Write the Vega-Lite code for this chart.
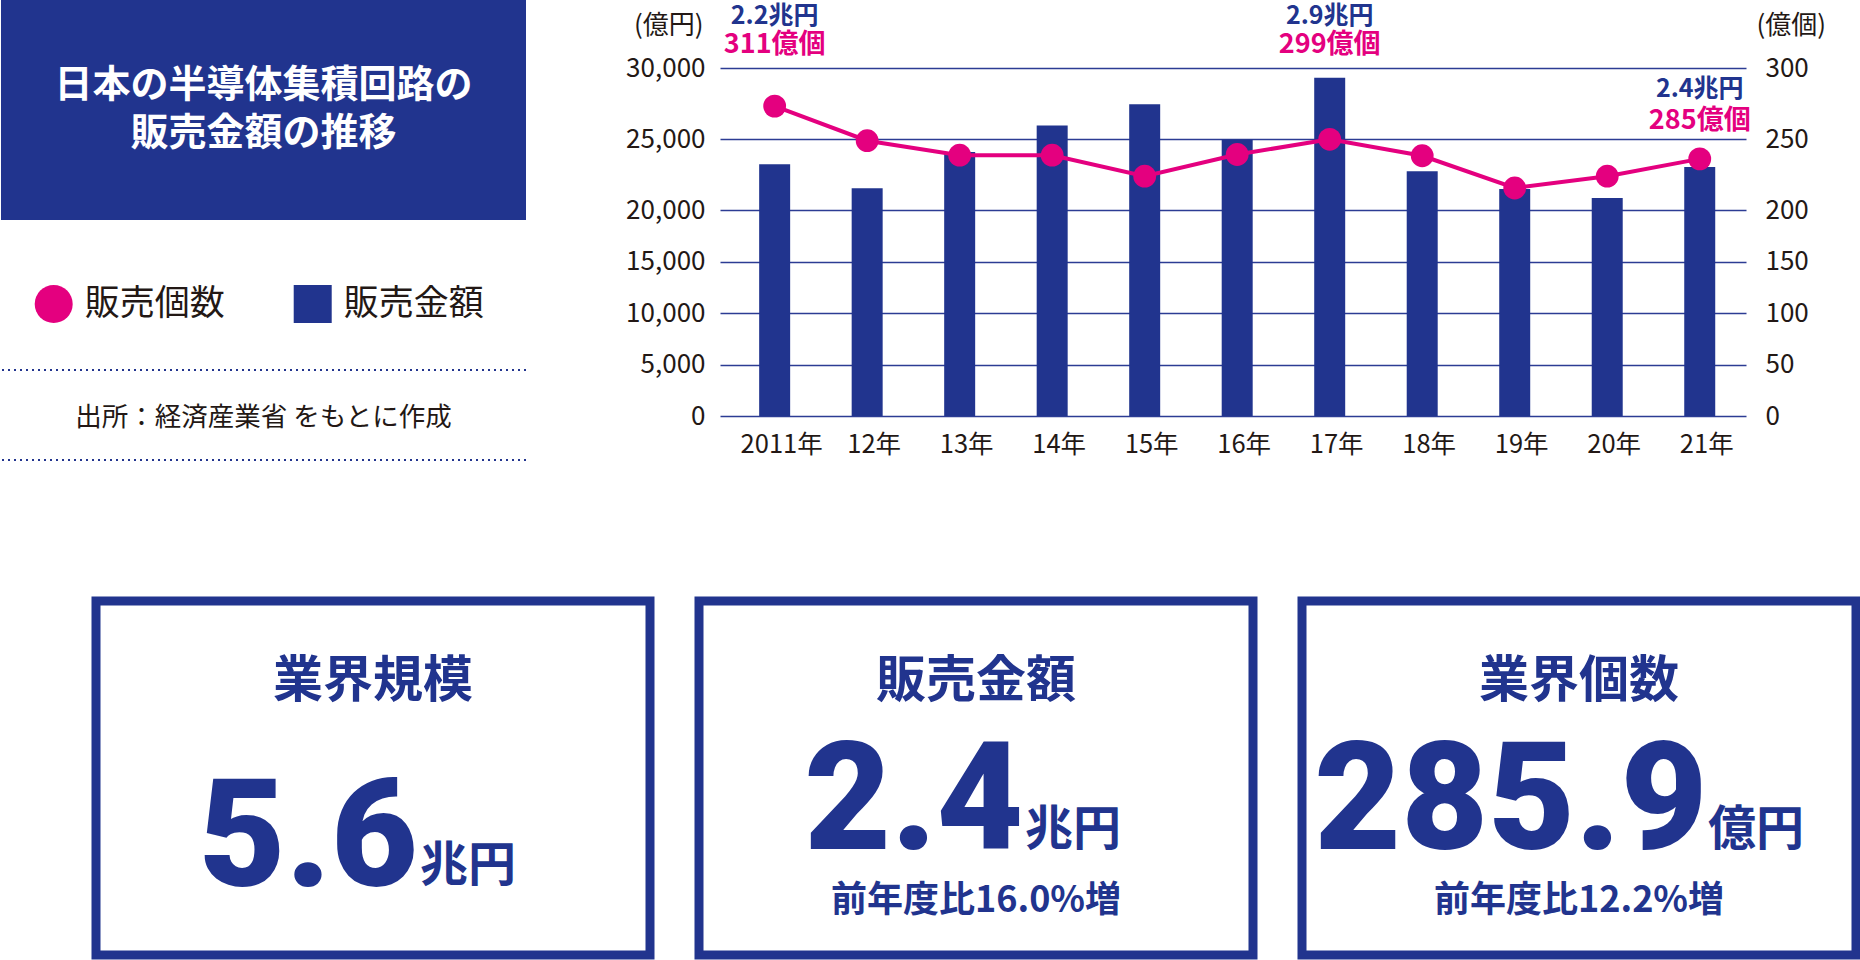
{
  "$schema": "https://vega.github.io/schema/vega-lite/v6.json",
  "padding": 0,
  "background": "white",
  "config": {
    "view": {"stroke": null},
    "font": "Noto Sans CJK JP",
    "text": {"font": "Noto Sans CJK JP"},
    "axis": {"labelFont": "Noto Sans CJK JP", "titleFont": "Noto Sans CJK JP"}
  },
  "datasets": {
    "年次": [
      {"年": "2011年", "金額": 23240, "個数": 273.4, "金額注記": "2.2兆円", "個数注記": "311億個"},
      {"年": "12年", "金額": 21550, "個数": 249.0},
      {"年": "13年", "金額": 24100, "個数": 238.8},
      {"年": "14年", "金額": 25980, "個数": 238.8},
      {"年": "15年", "金額": 27470, "個数": 224.0},
      {"年": "16年", "金額": 24990, "個数": 239.3},
      {"年": "17年", "金額": 29330, "個数": 250.0, "金額注記": "2.9兆円", "個数注記": "299億個"},
      {"年": "18年", "金額": 22750, "個数": 238.4},
      {"年": "19年", "金額": 21500, "個数": 215.7},
      {"年": "20年", "金額": 20870, "個数": 224.0},
      {"年": "21年", "金額": 23050, "個数": 236.2, "金額注記": "2.4兆円", "個数注記": "285億個"}
    ]
  },
  "spacing": 135,
  "align": "none",
  "bounds": "full",
  "vconcat": [
    {
      "spacing": 98,
      "align": "none",
      "bounds": "full",
      "hconcat": [
        {
          "spacing": 0,
          "align": "none",
          "bounds": "flush",
          "vconcat": [
            {
              "width": 525,
              "height": 220,
              "view": {"fill": "#21348E", "stroke": null},
              "data": {"values": [{"1行目": "日本の半導体集積回路の", "2行目": "販売金額の推移"}]},
              "layer": [
                {"mark": {"type": "text", "color": "white", "fontSize": 38, "fontWeight": "bold", "align": "center", "baseline": "middle", "dy": -24},
                 "encoding": {"text": {"field": "1行目"}}},
                {"mark": {"type": "text", "color": "white", "fontSize": 38, "fontWeight": "bold", "align": "center", "baseline": "middle", "dy": 24},
                 "encoding": {"text": {"field": "2行目"}}}
              ]
            },
            {
              "width": 525,
              "height": 150,
              "data": {"values": [{"凡例": "販売個数"}, {"凡例": "販売金額"}]},
              "encoding": {
                "x": {"field": "凡例", "type": "nominal", "sort": null, "axis": null, "bandPosition": 0.19,
                      "scale": {"type": "band", "paddingInner": 0, "paddingOuter": 0.0135, "domain": ["販売個数", "販売金額"]}}
              },
              "layer": [
                {
                  "mark": {"type": "point", "filled": true, "opacity": 1, "size": 1444, "yOffset": 9},
                  "encoding": {
                    "shape": {"field": "凡例", "type": "nominal", "legend": null, "scale": {"domain": ["販売個数", "販売金額"], "range": ["circle", "square"]}},
                    "color": {"field": "凡例", "type": "nominal", "legend": null, "scale": {"domain": ["販売個数", "販売金額"], "range": ["#E4007F", "#21348E"]}}
                  }
                },
                {
                  "mark": {"type": "text", "align": "left", "baseline": "middle", "dx": 31, "yOffset": 9, "fontSize": 35, "color": "#231815"},
                  "encoding": {"text": {"field": "凡例"}}
                }
              ]
            },
            {
              "width": 525,
              "height": 90,
              "layer": [
                {
                  "data": {"values": [{"線": "上"}, {"線": "下"}]},
                  "mark": {"type": "rule", "color": "#21348E", "strokeWidth": 2, "strokeDash": [2, 4]},
                  "encoding": {
                    "y": {"field": "線", "type": "nominal", "sort": null, "axis": null, "scale": {"type": "point", "padding": 0, "domain": ["上", "下"]}}
                  }
                },
                {
                  "data": {"values": [{"出典": "出所：経済産業省 をもとに作成"}]},
                  "mark": {"type": "text", "fontSize": 26.5, "color": "#231815", "baseline": "middle", "yOffset": 3},
                  "encoding": {"text": {"field": "出典"}}
                }
              ]
            }
          ]
        },
        {
          "width": 1026,
          "height": 416,
          "data": {"name": "年次"},
          "encoding": {
            "x": {
              "field": "年", "type": "ordinal", "sort": null,
              "scale": {"domain": ["2011年", "12年", "13年", "14年", "15年", "16年", "17年", "18年", "19年", "20年", "21年"],
                        "paddingInner": 0.665, "paddingOuter": 0.378, "align": 0.56},
              "axis": {"title": null, "labelAngle": 0, "labelFontSize": 25.5, "labelColor": "#231815", "labelPadding": 16, "labelOffset": 7, "ticks": false, "domain": false}
            }
          },
          "layer": [
            {
              "layer": [
                {
                  "mark": {"type": "bar", "color": "#21348E"},
                  "encoding": {
                    "y": {
                      "field": "金額", "type": "quantitative",
                      "scale": {"domain": [0, 20000, 30000], "range": [416, 210.3, 68.3], "nice": false, "zero": false},
                      "axis": {
                        "values": [0, 5000, 10000, 15000, 20000, 25000, 30000], "format": ",d",
                        "title": "(億円)", "titleAngle": 0, "titleAlign": "right", "titleBaseline": "middle",
                        "titleX": -17, "titleY": 25, "titleFontSize": 26, "titleFontWeight": "normal", "titleColor": "#231815",
                        "labelFontSize": 26, "labelColor": "#231815", "labelPadding": 15,
                        "ticks": false, "domain": false, "grid": true, "gridColor": "#2c3c94", "gridWidth": 1.3
                      }
                    }
                  }
                },
                {
                  "transform": [{"filter": "datum['金額注記'] && datum['年'] != '21年'"}],
                  "mark": {"type": "text", "color": "#21348E", "fontSize": 25, "fontWeight": "bold", "baseline": "middle", "dy": -52.5},
                  "encoding": {"y": {"datum": 30000}, "text": {"field": "金額注記"}}
                },
                {
                  "transform": [{"filter": "datum['個数注記'] && datum['年'] != '21年'"}],
                  "mark": {"type": "text", "color": "#E4007F", "fontSize": 27, "fontWeight": "bold", "baseline": "middle", "dy": -23.5},
                  "encoding": {"y": {"datum": 30000}, "text": {"field": "個数注記"}}
                },
                {
                  "transform": [{"filter": "datum['年'] == '21年'"}],
                  "mark": {"type": "text", "color": "#21348E", "fontSize": 25, "fontWeight": "bold", "baseline": "middle", "dy": 20.7},
                  "encoding": {"y": {"datum": 30000}, "text": {"field": "金額注記"}}
                },
                {
                  "transform": [{"filter": "datum['年'] == '21年'"}],
                  "mark": {"type": "text", "color": "#E4007F", "fontSize": 27, "fontWeight": "bold", "baseline": "middle", "dy": 52.7},
                  "encoding": {"y": {"datum": 30000}, "text": {"field": "個数注記"}}
                }
              ]
            },
            {
              "layer": [
                {
                  "mark": {"type": "line", "color": "#E4007F", "strokeWidth": 4},
                  "encoding": {
                    "y": {
                      "field": "個数", "type": "quantitative",
                      "scale": {"domain": [0, 200, 300], "range": [416, 210.3, 68.3], "nice": false, "zero": false},
                      "axis": {
                        "orient": "right",
                        "values": [0, 50, 100, 150, 200, 250, 300],
                        "title": "(億個)", "titleAngle": 0, "titleAlign": "left", "titleBaseline": "middle",
                        "titleX": 10, "titleY": 25, "titleFontSize": 26, "titleFontWeight": "normal", "titleColor": "#231815",
                        "labelFontSize": 26, "labelColor": "#231815", "labelPadding": 19,
                        "ticks": false, "domain": false, "grid": false
                      }
                    }
                  }
                },
                {
                  "mark": {"type": "point", "filled": true, "opacity": 1, "color": "#E4007F", "size": 520},
                  "encoding": {"y": {"field": "個数", "type": "quantitative"}}
                }
              ]
            }
          ],
          "resolve": {"scale": {"y": "independent"}}
        }
      ]
    },
    {
      "spacing": 49,
      "align": "none",
      "bounds": "flush",
      "hconcat": [
        {
          "width": 45.5,
          "height": 354,
          "view": {"fill": "white", "stroke": null},
          "data": {"values": []},
          "mark": "point"
        },
        {
          "width": 554,
          "height": 354,
          "view": {"stroke": "#21348E", "strokeWidth": 9, "fill": null},
          "data": {"values": [{"見出し": "業界規模", "数値": "5.6", "単位": "兆円"}]},
          "layer": [
            {"mark": {"type": "text", "fontSize": 50, "fontWeight": "bold", "color": "#21348E", "baseline": "middle", "dy": -96.5},
             "encoding": {"text": {"field": "見出し"}}},
            {"mark": {"type": "text", "font": "Roboto", "fontSize": 150, "fontWeight": 900, "color": "#21348E", "align": "right", "baseline": "alphabetic", "dx": 45, "dy": 107.5},
             "encoding": {"text": {"field": "数値"}}},
            {"mark": {"type": "text", "fontSize": 48, "fontWeight": "bold", "color": "#21348E", "align": "left", "baseline": "alphabetic", "dx": 47, "dy": 102.5},
             "encoding": {"text": {"field": "単位"}}}
          ]
        },
        {
          "width": 554,
          "height": 354,
          "view": {"stroke": "#21348E", "strokeWidth": 9, "fill": null},
          "data": {"values": [{"見出し": "販売金額", "数値": "2.4", "単位": "兆円", "注記": "前年度比16.0%増"}]},
          "layer": [
            {"mark": {"type": "text", "fontSize": 50, "fontWeight": "bold", "color": "#21348E", "baseline": "middle", "dy": -96.5},
             "encoding": {"text": {"field": "見出し"}}},
            {"mark": {"type": "text", "font": "Roboto", "fontSize": 150, "fontWeight": 900, "color": "#21348E", "align": "right", "baseline": "alphabetic", "dx": 47.5, "dy": 70.5},
             "encoding": {"text": {"field": "数値"}}},
            {"mark": {"type": "text", "fontSize": 48, "fontWeight": "bold", "color": "#21348E", "align": "left", "baseline": "alphabetic", "dx": 49, "dy": 66.7},
             "encoding": {"text": {"field": "単位"}}},
            {"mark": {"type": "text", "fontSize": 36, "fontWeight": "bold", "color": "#21348E", "baseline": "middle", "dy": 122.5},
             "encoding": {"text": {"field": "注記"}}}
          ]
        },
        {
          "width": 554,
          "height": 354,
          "view": {"stroke": "#21348E", "strokeWidth": 9, "fill": null},
          "data": {"values": [{"見出し": "業界個数", "数値": "285.9", "単位": "億円", "注記": "前年度比12.2%増"}]},
          "layer": [
            {"mark": {"type": "text", "fontSize": 50, "fontWeight": "bold", "color": "#21348E", "baseline": "middle", "dy": -96.5},
             "encoding": {"text": {"field": "見出し"}}},
            {"mark": {"type": "text", "font": "Roboto", "fontSize": 150, "fontWeight": 900, "color": "#21348E", "align": "right", "baseline": "alphabetic", "dx": 128.5, "dy": 70.5},
             "encoding": {"text": {"field": "数値"}}},
            {"mark": {"type": "text", "fontSize": 48, "fontWeight": "bold", "color": "#21348E", "align": "left", "baseline": "alphabetic", "dx": 129, "dy": 66.7},
             "encoding": {"text": {"field": "単位"}}},
            {"mark": {"type": "text", "fontSize": 36, "fontWeight": "bold", "color": "#21348E", "baseline": "middle", "dy": 122.5},
             "encoding": {"text": {"field": "注記"}}}
          ]
        }
      ]
    }
  ]
}
